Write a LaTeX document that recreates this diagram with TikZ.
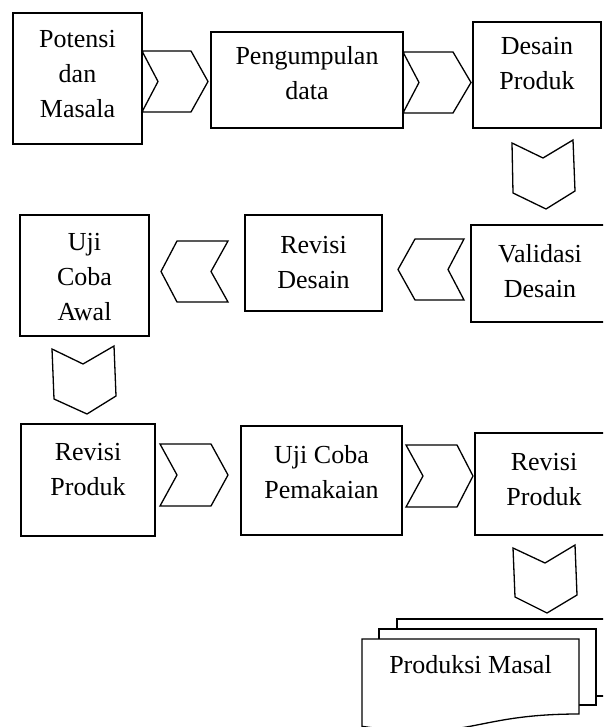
\documentclass[tikz,border=0pt]{standalone}
\usepackage{fontspec}
\setmainfont{Liberation Serif}
\tikzset{
  box/.style={draw, line width=1.3pt, rectangle, inner sep=0pt, outer sep=0pt},
  txt/.style={anchor=base, inner sep=0pt, font=\fontsize{26}{35}\selectfont},
  chev/.style={draw, line width=1.3pt, line join=miter},
  doc/.style={draw, line width=1.3pt, fill=white, line join=miter}
}
\newcommand{\mylines}[1]{\parbox[t]{200pt}{\centering #1}}
\begin{document}
\begin{tikzpicture}[x=1pt,y=-1pt]
\useasboundingbox (0,0) rectangle (603,727);
\clip (0,0) rectangle (603,727);
% boxes
\node[box, minimum width=129pt, minimum height=131pt] (b1) at (77.5,78.5) {};
\node[box, minimum width=192pt, minimum height=96pt] (b2) at (307,80) {};
\node[box, minimum width=128pt, minimum height=106pt] (b3) at (537,75) {};
\node[box, minimum width=129pt, minimum height=121pt] (b4) at (84.5,275.5) {};
\node[box, minimum width=137pt, minimum height=96pt] (b5) at (313.5,263) {};
\node[box, minimum width=138pt, minimum height=97pt] (b6) at (540,273.5) {};
\node[box, minimum width=134pt, minimum height=112pt] (b7) at (88,480) {};
\node[box, minimum width=161pt, minimum height=109pt] (b8) at (321.5,480.5) {};
\node[box, minimum width=138pt, minimum height=102pt] (b9) at (544,484) {};
% texts
\node[txt] (t1) at (77.5,48) {\mylines{Potensi\\dan\\Masala}};
\node[txt] (t2) at (307,65) {\mylines{Pengumpulan\\data}};
\node[txt] (t3) at (537,55) {\mylines{Desain\\Produk}};
\node[txt] (t4) at (84.5,250) {\mylines{Uji\\Coba\\Awal}};
\node[txt] (t5) at (313.5,253) {\mylines{Revisi\\Desain}};
\node[txt] (t6) at (540,262) {\mylines{Validasi\\Desain}};
\node[txt] (t7) at (88,460) {\mylines{Revisi\\Produk}};
\node[txt] (t8) at (321.5,463) {\mylines{Uji Coba\\Pemakaian}};
\node[txt] (t9) at (544,470) {\mylines{Revisi\\Produk}};
% right chevrons
\draw[chev] (142,51) -- (191,51) -- (208,81.5) -- (191,112) -- (142,112) -- (158,81.5) -- cycle;
\draw[chev] (403,52) -- (453,52) -- (471,82.5) -- (453,113) -- (403,113) -- (419,82.5) -- cycle;
\draw[chev] (160,444) -- (211,444) -- (228,475) -- (211,506) -- (160,506) -- (177,475) -- cycle;
\draw[chev] (406,445) -- (457,445) -- (473,476) -- (457,507) -- (406,507) -- (423,476) -- cycle;
% left chevrons
\draw[chev] (228,241) -- (177,241) -- (161,271.5) -- (177,302) -- (228,302) -- (211,271.5) -- cycle;
\draw[chev] (464,239) -- (415,239) -- (398,269.5) -- (415,300) -- (464,300) -- (448,269.5) -- cycle;
% down chevrons
\draw[chev] (512,143) -- (543,158) -- (573,140) -- (575,191) -- (546,209) -- (513,193) -- cycle;
\draw[chev] (52,349) -- (83,364) -- (114,346) -- (116,396) -- (87,414) -- (54,399) -- cycle;
\draw[chev] (513,548) -- (545,563) -- (575,545) -- (577,595) -- (547,613) -- (515,597) -- cycle;
% multidocument
\draw[doc] (397,639) -- (397,619) -- (620,619) -- (620,696) -- (596,696);
\draw[doc] (379,639) -- (379,629) -- (596,629) -- (596,705) -- (579,705);
\draw[doc] (362,639) -- (579,639) -- (579,714) .. controls (470.5,714) and (470.5,742.5) .. (362,726.3) -- cycle;
\node[txt] (t10) at (470.5,673) {Produksi Masal};
\end{tikzpicture}
\end{document}
